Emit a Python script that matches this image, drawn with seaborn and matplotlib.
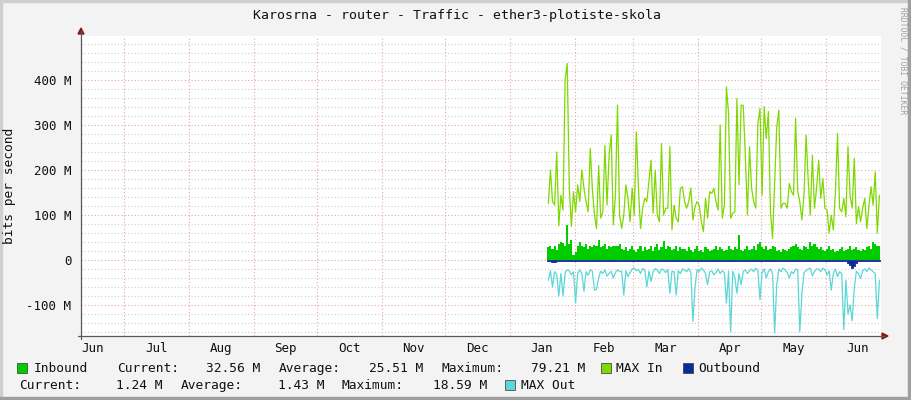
import numpy as np
import pandas as pd
import matplotlib
matplotlib.use("Agg")
import matplotlib.pyplot as plt
from matplotlib.patches import Rectangle, Polygon
from matplotlib.lines import Line2D
import seaborn as sns

# ---------------- data ----------------
TITLE = "Karosrna - router - Traffic - ether3-plotiste-skola"
Y_LABEL = "bits per second"
CREDIT = "RRDTOOL / TOBI OETIKER"
DATA_START = "2023-01-19"
AXIS_START = "2022-06-10 11:30"
AXIS_END = "2023-06-27 06:00"
FIRST_MONTH = "2022-06-01"
MONTH_LABELS = ["Jun", "Jul", "Aug", "Sep", "Oct", "Nov", "Dec",
                "Jan", "Feb", "Mar", "Apr", "May", "Jun"]
Y_TICKS = [-100, 0, 100, 200, 300, 400]
Y_TICK_LABELS = ["-100 M", "0", "100 M", "200 M", "300 M", "400 M"]
Y_MIN, Y_MAX = -169, 498

# daily values in Mbit/s
max_in = [126, 200, 130, 122, 240, 76, 144, 111, 400, 437, 160, 75, 152, 107, 167, 130, 200, 159, 130, 107,
          248, 159, 100, 70, 210, 93, 107, 255, 122, 233, 278, 78, 144,
          344, 100, 70, 100, 167, 137, 85, 160, 100, 285, 159, 70, 115, 137, 130, 174, 222, 104, 200, 100,
          85, 259, 100, 115, 115, 252, 67, 122, 93, 85, 159, 163,
          130, 115, 130, 160, 89, 119, 130, 122, 85, 63, 137, 93, 152, 148, 159, 130, 111, 300, 93, 122,
          385, 326, 93, 104, 107, 359, 167, 344, 344, 233, 100, 252,
          159, 130, 115, 304, 337, 144, 341, 270, 330, 107, 48, 170, 296, 333, 115, 126, 126, 115, 170, 152,
          144, 315, 152, 130, 89, 144, 278, 178, 100, 233, 115, 159,
          222, 137, 181, 115, 111, 60, 100, 67, 152, 281, 115, 107, 137, 96, 252, 144, 115, 226, 81, 119,
          85, 115, 137, 70, 119, 163, 122, 196, 60, 144]

inbound = [28, 32, 25, 30, 22, 35, 40, 38, 30, 78, 36, 45, 12, 18, 30, 40, 32, 28, 35, 25,
           30, 28, 33, 30, 45, 28, 30, 35, 25, 30, 28, 32, 30,
           30, 35, 25, 22, 28, 20, 25, 30, 22, 18, 25, 30, 20, 28, 22, 25, 30, 20, 28, 35,
           22, 28, 42, 25, 30, 28, 22, 25, 30, 20, 28, 25,
           25, 20, 28, 22, 18, 25, 30, 20, 22, 18, 28, 25, 20, 22, 25, 30, 22, 28, 25, 20,
           22, 30, 25, 22, 28, 25, 55, 22, 20, 25, 30, 22,
           25, 30, 22, 35, 40, 28, 25, 30, 22, 25, 30, 28, 20, 22, 18, 25, 22, 20, 25, 28,
           30, 35, 28, 25, 22, 30, 28, 25, 40, 30, 35, 28,
           25, 28, 22, 20, 25, 30, 22, 25, 18, 20, 25, 28, 20, 22, 25, 30, 22, 25, 28, 22,
           20, 25, 22, 28, 30, 25, 40, 35, 30, 32]

outbound = [1.5, 1.6, 4, 3.5, 1.4, 1.3, 1.5, 1.4, 1.6, 1.5, 1.4, 1.3, 1.5, 3, 1.4, 1.5, 1.3, 1.4, 1.5, 1.2,
            1.4, 1.3, 1.5, 1.4, 3, 1.5, 1.3, 1.4, 1.2, 1.5, 1.4, 1.3, 1.4,
            3, 1.4, 1.3, 1.5, 1.2, 1.4, 1.3, 1.2, 1.4, 1.3, 1.2, 1.5, 1.3, 1.2, 1.4, 1.3, 1.2, 1.4, 1.3, 1.2,
            1.4, 1.3, 1.2, 1.4, 1.3, 1.2, 1.4, 1.3, 1.2, 1.4, 1.3, 1.2,
            1.3, 1.2, 1.4, 1.3, 1.2, 1.4, 1.3, 1.2, 3, 3, 1.3, 1.2, 1.4, 1.3, 1.2, 1.4, 1.3, 1.2, 1.4, 1.3,
            1.2, 1.4, 1.3, 1.2, 1.4, 1.3, 1.2, 1.4, 1.3, 1.2, 1.4, 3,
            2.5, 1.3, 1.2, 1.4, 1.3, 1.2, 1.4, 1.3, 1.2, 1.4, 1.3, 2.5, 3, 1.3, 1.2, 1.4, 1.3, 1.2, 1.4, 1.3,
            1.2, 1.4, 1.3, 1.2, 1.4, 1.3, 1.2, 1.4, 1.3, 1.2, 1.4, 1.3,
            1.3, 1.2, 1.4, 1.3, 1.2, 1.4, 1.3, 1.2, 1.4, 1.3, 1.2, 1.4, 1.3, 1.5, 6, 12, 18.6, 13, 7, 2,
            1.4, 1.3, 1.2, 1.4, 1.3, 1.2, 1.4, 1.3, 1.2, 1.24]

max_out = [45, 24, 60, 26, 32, 80, 30, 80, 28, 22, 24, 33, 26, 96, 30, 22, 30, 70, 26, 34,
           22, 25, 67, 65, 40, 25, 30, 22, 36, 30, 25, 40, 28,
           22, 26, 25, 78, 24, 37, 28, 20, 18, 24, 21, 30, 19, 22, 60, 25, 48, 26, 19, 22,
           30, 20, 22, 28, 21, 74, 25, 26, 78, 24, 30, 20,
           22, 26, 19, 28, 137, 60, 21, 26, 18, 22, 30, 55, 26, 24, 33, 28, 20, 30, 24, 28,
           96, 25, 160, 25, 40, 74, 30, 55, 26, 22, 30, 24,
           20, 26, 18, 24, 88, 28, 20, 40, 26, 20, 30, 162, 55, 20, 26, 18, 22, 28, 40, 26,
           30, 20, 22, 160, 75, 28, 24, 20, 18, 35, 26, 20,
           20, 26, 18, 22, 33, 24, 67, 30, 20, 37, 26, 30, 155, 45, 120, 100, 135, 63, 25, 30,
           41, 24, 20, 26, 18, 22, 26, 30, 130, 45]

INBOUND_STATS = ["32.56 M", "25.51 M", "79.21 M"]
OUTBOUND_STATS = ["1.24 M", "1.43 M", "18.59 M"]

# ---------------- style ----------------
C_IN = "#00cc00"
C_MAXIN = "#7fd800"
C_OUT = "#0a2c9a"
C_MAXOUT = "#5cd6d6"
CANVAS = "#f3f3f3"
RED_GRID = "#e9a3a3"
GRAY_GRID = "#cfcfcf"
AXIS_C = "#5a5a5a"
ARROW_C = "#8b1a1a"

sns.set_style("white")
plt.rcParams["font.family"] = ["DejaVu Sans Mono", "DejaVu Sans"]

W, H = 911, 400
fig = plt.figure(figsize=(W / 100, H / 100), dpi=100, facecolor=CANVAS)


def fx(px):
    return px / W


def fy(py):
    return 1 - py / H


L, R, T, B = 81, 881, 36, 336
ax = fig.add_axes([fx(L), fy(B), fx(R) - fx(L), fy(T) - fy(B)])
ax.set_facecolor("white")

n = len(max_in)
edges = pd.date_range(DATA_START, periods=n + 1, freq="D")
days = edges[:-1] + pd.Timedelta(hours=12)


def ext(v):
    v = np.asarray(v, dtype=float)
    return np.append(v, v[-1])


ax.fill_between(edges, 0, ext(inbound), step="post", color=C_IN, linewidth=0, zorder=3)
sns.lineplot(x=days, y=np.asarray(max_in, float), estimator=None, sort=False,
             color=C_MAXIN, linewidth=0.9, ax=ax, zorder=4)
ax.fill_between(edges, 0, -ext(outbound), step="post", color=C_OUT, edgecolor=C_OUT,
                linewidth=0.6, zorder=5)
sns.lineplot(x=days, y=-np.asarray(max_out, float), estimator=None, sort=False,
             color=C_MAXOUT, linewidth=0.9, ax=ax, zorder=6)

ax.set_xlim(pd.Timestamp(AXIS_START), pd.Timestamp(AXIS_END))
ax.set_ylim(Y_MIN, Y_MAX)

month_starts = pd.date_range(FIRST_MONTH, periods=len(MONTH_LABELS) + 1, freq="MS")
mids = month_starts[:-1] + (month_starts[1:] - month_starts[:-1]) / 2
ax.set_xticks(mids)
ax.set_xticklabels(MONTH_LABELS)
ax.set_xticks(month_starts[1:-1], minor=True)
ax.set_yticks(Y_TICKS)
ax.set_yticklabels(Y_TICK_LABELS)
ax.set_yticks(np.arange(-160, Y_MAX, 20), minor=True)

dots = (0, (1, 2))
ax.grid(False)
ax.xaxis.grid(True, which="minor", color=RED_GRID, linestyle=dots, linewidth=0.8)
ax.yaxis.grid(True, which="major", color=RED_GRID, linestyle=dots, linewidth=0.8)
ax.yaxis.grid(True, which="minor", color=GRAY_GRID, linestyle=dots, linewidth=0.8)
ax.set_axisbelow(True)

ax.set_xlabel("")
ax.set_ylabel("")
ax.tick_params(axis="x", which="major", length=0, pad=4, labelsize=9, labelcolor="#111111")
ax.tick_params(axis="x", which="minor", length=2, direction="in", color=RED_GRID)
ax.tick_params(axis="y", which="major", length=2, direction="in", color=RED_GRID,
               pad=7, labelsize=9, labelcolor="#111111")
ax.tick_params(axis="y", which="minor", length=0)

for s in ["top", "right", "left", "bottom"]:
    ax.spines[s].set_visible(False)

# axis lines with arrows (figure pixel coordinates)
fig.add_artist(Line2D([fx(L), fx(L)], [fy(B + 3), fy(31)], color=AXIS_C, linewidth=0.9))
fig.add_artist(Line2D([fx(L - 3), fx(884)], [fy(B), fy(B)], color=AXIS_C, linewidth=0.9))
fig.add_artist(Polygon([(fx(L - 3), fy(34)), (fx(L + 3), fy(34)), (fx(L), fy(28))],
                       closed=True, color=ARROW_C, transform=fig.transFigure))
fig.add_artist(Polygon([(fx(882), fy(B - 3)), (fx(882), fy(B + 3)), (fx(888), fy(B))],
                       closed=True, color=ARROW_C, transform=fig.transFigure))

# title, y label, credit
fig.text(fx(457), fy(15), TITLE, ha="center", va="center", fontsize=9.5, color="#111111")
fig.text(fx(10), fy(186), Y_LABEL, ha="center", va="center", rotation=90, fontsize=9.3,
         color="#111111")
fig.text(fx(903), fy(61), CREDIT, ha="center", va="center", rotation=270, fontsize=5.8,
         color="#a0a0a0")

# legend
FS = 9.3


def square(x0, yc, color):
    fig.add_artist(Rectangle((fx(x0), fy(yc + 5)), 10 / W, 10 / H, transform=fig.transFigure,
                             facecolor=color, edgecolor="#333333", linewidth=0.5))


def txt(x, ybase, s, ha="left"):
    fig.text(fx(x), fy(ybase), s, ha=ha, va="baseline", fontsize=FS, color="#111111")


r1, r2 = 368, 385
b1, b2 = 372, 389
square(17, r1, C_IN)
txt(34, b1, "Inbound")
txt(117, b1, "Current:")
txt(260, b1, INBOUND_STATS[0], "right")
txt(279, b1, "Average:")
txt(423, b1, INBOUND_STATS[1], "right")
txt(441, b1, "Maximum:")
txt(585, b1, INBOUND_STATS[2], "right")
square(601, r1, C_MAXIN)
txt(616, b1, "MAX In")
square(683, r1, C_OUT)
txt(698, b1, "Outbound")

txt(19, b2, "Current:")
txt(162, b2, OUTBOUND_STATS[0], "right")
txt(181, b2, "Average:")
txt(325, b2, OUTBOUND_STATS[1], "right")
txt(342, b2, "Maximum:")
txt(487, b2, OUTBOUND_STATS[2], "right")
square(505, r2, C_MAXOUT)
txt(521, b2, "MAX Out")

# frame of the canvas
fig.add_artist(Rectangle((0, 0), 2 / W, 1, transform=fig.transFigure, color="#cfcfcf"))
fig.add_artist(Rectangle((0, 1 - 2 / H), 1, 2 / H, transform=fig.transFigure, color="#cfcfcf"))
fig.add_artist(Rectangle((1 - 3 / W, 0), 3 / W, 1, transform=fig.transFigure, color="#9f9f9f"))
fig.add_artist(Rectangle((0, 0), 1, 3 / H, transform=fig.transFigure, color="#9f9f9f"))

fig.savefig("out.png", dpi=100, facecolor=CANVAS)
